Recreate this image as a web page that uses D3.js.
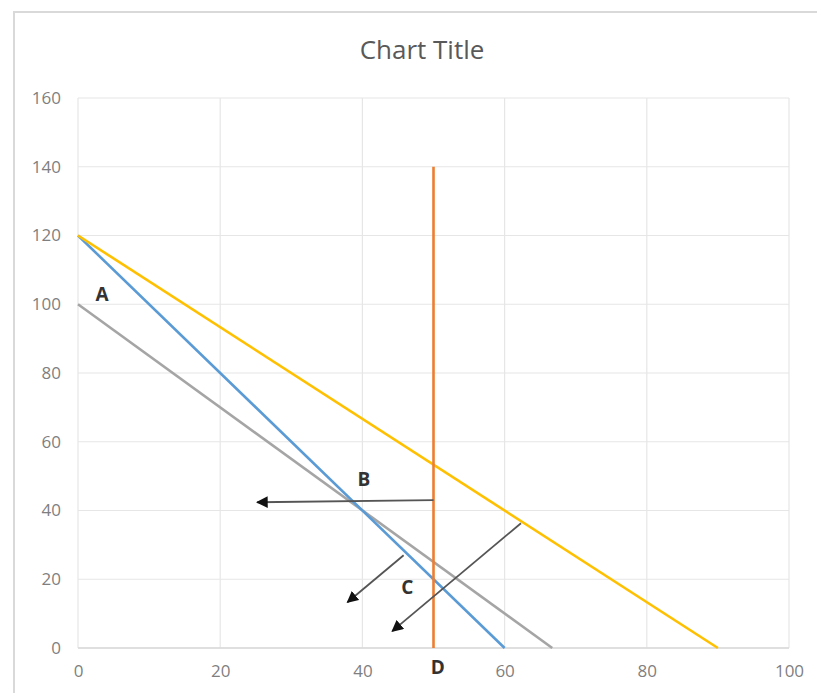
<!DOCTYPE html>
<html><head><meta charset="utf-8">
<script src="https://cdn.jsdelivr.net/npm/d3@7/dist/d3.min.js"></script>
<style>body{margin:0;background:#fff}svg{display:block}</style>
</head><body>
<svg id="c" width="817" height="693"></svg>
<script>
const xTicks = [0,20,40,60,80,100];
const yTicks = [0,20,40,60,80,100,120,140,160];
const seriesNames = ["yellow","blue","gray","orange"];
const yellowLine = [[0,120],[90,0]];
const blueLine = [[0,120],[60,0]];
const grayLine = [[0,100],[66.7,0]];
const orangeLine = [[50,0],[50,140]];
const arrows = [
  [[50,43],[25.2,42.4]],
  [[45.8,27],[37.9,13.3]],
  [[62.3,36.3],[44.2,4.9]]
];
const labels = [
  {t:"A", x:3.4, y:102.5},
  {t:"B", x:40.2, y:48.5},
  {t:"C", x:46.3, y:17.3},
  {t:"D", x:50.6, y:-6}
];

const svg = d3.select("#c");
const x = d3.scaleLinear().domain([0,100]).range([78,789]);
const y = d3.scaleLinear().domain([0,160]).range([648,98]);

svg.append("rect").attr("x",14).attr("y",12).attr("width",830).attr("height",720)
  .attr("fill","#fff").attr("stroke","#d9d9d9").attr("stroke-width",2);

svg.append("text").attr("x",422).attr("y",59).attr("text-anchor","middle")
  .attr("font-family","Open Sans, sans-serif").attr("font-size",26).attr("fill","#595959")
  .text("Chart Title");

svg.append("g").selectAll("line").data(yTicks).join("line")
  .attr("x1",x(0)).attr("x2",x(100)).attr("y1",d=>y(d)).attr("y2",d=>y(d))
  .attr("stroke","#e6e6e6").attr("stroke-width",1.2);
svg.append("g").selectAll("line").data(xTicks).join("line")
  .attr("y1",y(0)).attr("y2",y(160)).attr("x1",d=>x(d)).attr("x2",d=>x(d))
  .attr("stroke","#e6e6e6").attr("stroke-width",1.2);

const xAxis = svg.append("g").attr("transform",`translate(0,${y(0)})`)
  .call(d3.axisBottom(x).tickValues(xTicks).tickSize(0).tickPadding(17));
const yAxis = svg.append("g").attr("transform",`translate(${x(0)},0)`)
  .call(d3.axisLeft(y).tickValues(yTicks).tickSize(0).tickPadding(17));
[xAxis,yAxis].forEach(g=>{
  g.select(".domain").remove();
  g.selectAll("text").attr("font-family","Open Sans, sans-serif").attr("font-size",17).attr("fill","#7f7f7f");
});
svg.append("line").attr("x1",x(0)).attr("x2",x(100)).attr("y1",y(0)).attr("y2",y(0))
  .attr("stroke","#d9d9d9").attr("stroke-width",1.5);

const line = d3.line().x(d=>x(d[0])).y(d=>y(d[1]));
const data = [
  {d:grayLine, c:"#a5a5a5"},
  {d:blueLine, c:"#5b9bd5"},
  {d:yellowLine, c:"#ffc000"},
  {d:orangeLine, c:"#ed7d31"}
];
svg.append("g").selectAll("path").data(data).join("path")
  .attr("d",d=>line(d.d)).attr("fill","none").attr("stroke",d=>d.c).attr("stroke-width",2.6);

svg.append("defs").append("marker").attr("id","ah").attr("viewBox","0 0 10 10")
  .attr("refX",9).attr("refY",5).attr("markerWidth",6.5).attr("markerHeight",6.5)
  .attr("markerUnits","strokeWidth").attr("orient","auto")
  .append("path").attr("d","M0,0 L10,5 L0,10 Z").attr("fill","#111");
svg.append("g").selectAll("path").data(arrows).join("path")
  .attr("d",d=>line(d)).attr("fill","none").attr("stroke","#555").attr("stroke-width",1.8)
  .attr("marker-end","url(#ah)");

svg.append("g").selectAll("text").data(labels).join("text")
  .attr("x",d=>x(d.x)).attr("y",d=>y(d.y)).attr("text-anchor","middle").attr("dominant-baseline","middle")
  .attr("font-family","Open Sans, sans-serif").attr("font-weight","bold").attr("font-size",19).attr("fill","#333")
  .text(d=>d.t);
</script>
</body></html>
